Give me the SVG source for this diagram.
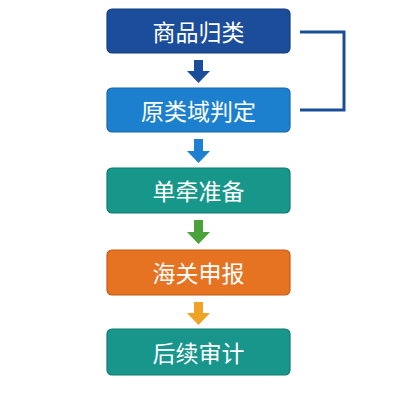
<svg xmlns="http://www.w3.org/2000/svg" width="400" height="400" viewBox="0 0 400 400">
<style>
.box{stroke-width:1.2}
.t{font-family:"Noto Sans CJK SC","Liberation Sans",sans-serif;font-size:23px;fill:#fff;text-anchor:middle;dominant-baseline:central}
</style>
<rect width="400" height="400" fill="#fff"/>
<g id="connectors">
<path d="M300 32 H344 V110 H300" fill="none" stroke="#1a4e9a" stroke-width="3"/>
<polygon points="194,60 203,60 203,71 210,71 198.5,83 187,71 194,71" fill="#1a4e9a"/>
<polygon points="194,139 203,139 203,151 210,151 198.5,163 187,151 194,151" fill="#1f7fd0"/>
<polygon points="194,220 203,220 203,232 210,232 198.5,244 187,232 194,232" fill="#4aa23a"/>
<polygon points="194,302 203,302 203,313 210,313 198.5,325 187,313 194,313" fill="#f0a224"/>
</g>
<g id="n1"><rect class="box" x="107" y="9" width="183" height="44" rx="5" fill="#1b4d9b" stroke="#153f80"/><text class="t" x="198.5" y="31">商品归类</text></g>
<g id="n2"><rect class="box" x="107" y="88" width="183" height="44" rx="5" fill="#1d80cf" stroke="#1766a8"/><text class="t" x="198.5" y="110">原类域判定</text></g>
<g id="n3"><rect class="box" x="107" y="168" width="183" height="45" rx="5" fill="#17978a" stroke="#107a6f"/><text class="t" x="198.5" y="190">单牵准备</text></g>
<g id="n4"><rect class="box" x="107" y="250" width="183" height="45" rx="5" fill="#e67322" stroke="#c45d14"/><text class="t" x="198.5" y="272">海关申报</text></g>
<g id="n5"><rect class="box" x="107" y="329" width="183" height="46" rx="5" fill="#18968c" stroke="#107a70"/><text class="t" x="198.5" y="352">后续审计</text></g>
</svg>
